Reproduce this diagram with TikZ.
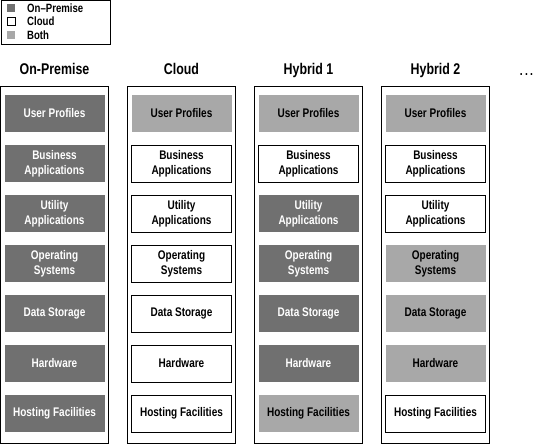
\documentclass[tikz,border=0pt]{standalone}
\usepackage{fontspec}
\setmainfont{Liberation Sans}[FakeStretch=0.8]
\usetikzlibrary{positioning}
\definecolor{onpremgray}{RGB}{112,112,112}
\definecolor{bothgray}{RGB}{168,168,168}

\begin{document}
\begin{tikzpicture}[
    x=1pt, y=-1pt,
    node distance=13pt,
    column/.style={rectangle, draw, line width=0.8pt, minimum width=108pt, minimum height=357pt, inner sep=0pt, outer sep=0pt},
    layer/.style={rectangle, minimum width=100pt, minimum height=37pt, inner sep=0pt, outer sep=0pt, align=center, font=\fontsize{12.5}{15}\selectfont\bfseries},
    onprem/.style={layer, fill=onpremgray, text=white},
    cloud/.style={layer, draw, line width=0.8pt, fill=white},
    both/.style={layer, fill=bothgray},
    heading/.style={inner sep=0pt, text height=11pt, text depth=0pt, font=\fontsize{15.5}{17}\selectfont\bfseries},
    key/.style={rectangle, minimum size=8pt, inner sep=0pt, outer sep=0pt},
    keytext/.style={inner sep=0pt, font=\fontsize{12}{13}\selectfont\bfseries},
]
    \useasboundingbox (0,0) rectangle (538,444);

    % Legend
    \node[draw, line width=0.8pt, minimum width=109pt, minimum height=44pt, inner sep=0pt, anchor=north west] (legend) at (0.5,0.5) {};
    \node[key, fill=onpremgray] (keyprem) at (11,8) {};
    \node[key, draw, line width=0.7pt, fill=white, below=5.5pt of keyprem] (keycloud) {};
    \node[key, fill=bothgray, below=5.5pt of keycloud] (keyboth) {};
    \node[keytext, right=12pt of keyprem] (labprem) {On--Premise};
    \node[keytext, right=12pt of keycloud] (labcloud) {Cloud};
    \node[keytext, right=12pt of keyboth] (labboth) {Both};

    % Columns
    \node[column] (colprem) at (54.5,264.5) {};
    \node[column, right=19pt of colprem] (colcloud) {};
    \node[column, right=19pt of colcloud] (colhyone) {};
    \node[column, right=19pt of colhyone] (colhytwo) {};

    % Headings
    \node[heading, above=11pt of colprem] (headprem) {On-Premise};
    \node[heading, above=11pt of colcloud] (headcloud) {Cloud};
    \node[heading, above=11pt of colhyone] (headhyone) {Hybrid 1};
    \node[heading, above=11pt of colhytwo] (headhytwo) {Hybrid 2};
    \node[inner sep=0pt, anchor=base, font=\fontsize{13}{15}\selectfont\bfseries] (more) at (526.5,75) {.\hspace{2.2pt}.\hspace{2.2pt}.};

    % On-Premise
    \node[onprem, below=9pt of colprem.north] (premuser) {User Profiles};
    \node[onprem, below=of premuser] (prembiz) {Business\\Applications};
    \node[onprem, below=of prembiz] (premutil) {Utility\\Applications};
    \node[onprem, below=of premutil] (premos) {Operating\\Systems};
    \node[onprem, below=of premos] (premdata) {Data Storage};
    \node[onprem, below=of premdata] (premhw) {Hardware};
    \node[onprem, below=of premhw] (premhost) {Hosting Facilities};

    % Cloud
    \node[both, below=9pt of colcloud.north] (clouduser) {User Profiles};
    \node[cloud, below=of clouduser] (cloudbiz) {Business\\Applications};
    \node[cloud, below=of cloudbiz] (cloudutil) {Utility\\Applications};
    \node[cloud, below=of cloudutil] (cloudos) {Operating\\Systems};
    \node[cloud, below=of cloudos] (clouddata) {Data Storage};
    \node[cloud, below=of clouddata] (cloudhw) {Hardware};
    \node[cloud, below=of cloudhw] (cloudhost) {Hosting Facilities};

    % Hybrid 1
    \node[both, below=9pt of colhyone.north] (hyoneuser) {User Profiles};
    \node[cloud, below=of hyoneuser] (hyonebiz) {Business\\Applications};
    \node[onprem, below=of hyonebiz] (hyoneutil) {Utility\\Applications};
    \node[onprem, below=of hyoneutil] (hyoneos) {Operating\\Systems};
    \node[onprem, below=of hyoneos] (hyonedata) {Data Storage};
    \node[onprem, below=of hyonedata] (hyonehw) {Hardware};
    \node[both, below=of hyonehw] (hyonehost) {Hosting Facilities};

    % Hybrid 2
    \node[both, below=9pt of colhytwo.north] (hytwouser) {User Profiles};
    \node[cloud, below=of hytwouser] (hytwobiz) {Business\\Applications};
    \node[cloud, below=of hytwobiz] (hytwoutil) {Utility\\Applications};
    \node[both, below=of hytwoutil] (hytwoos) {Operating\\Systems};
    \node[both, below=of hytwoos] (hytwodata) {Data Storage};
    \node[both, below=of hytwodata] (hytwohw) {Hardware};
    \node[cloud, below=of hytwohw] (hytwohost) {Hosting Facilities};
\end{tikzpicture}
\end{document}
